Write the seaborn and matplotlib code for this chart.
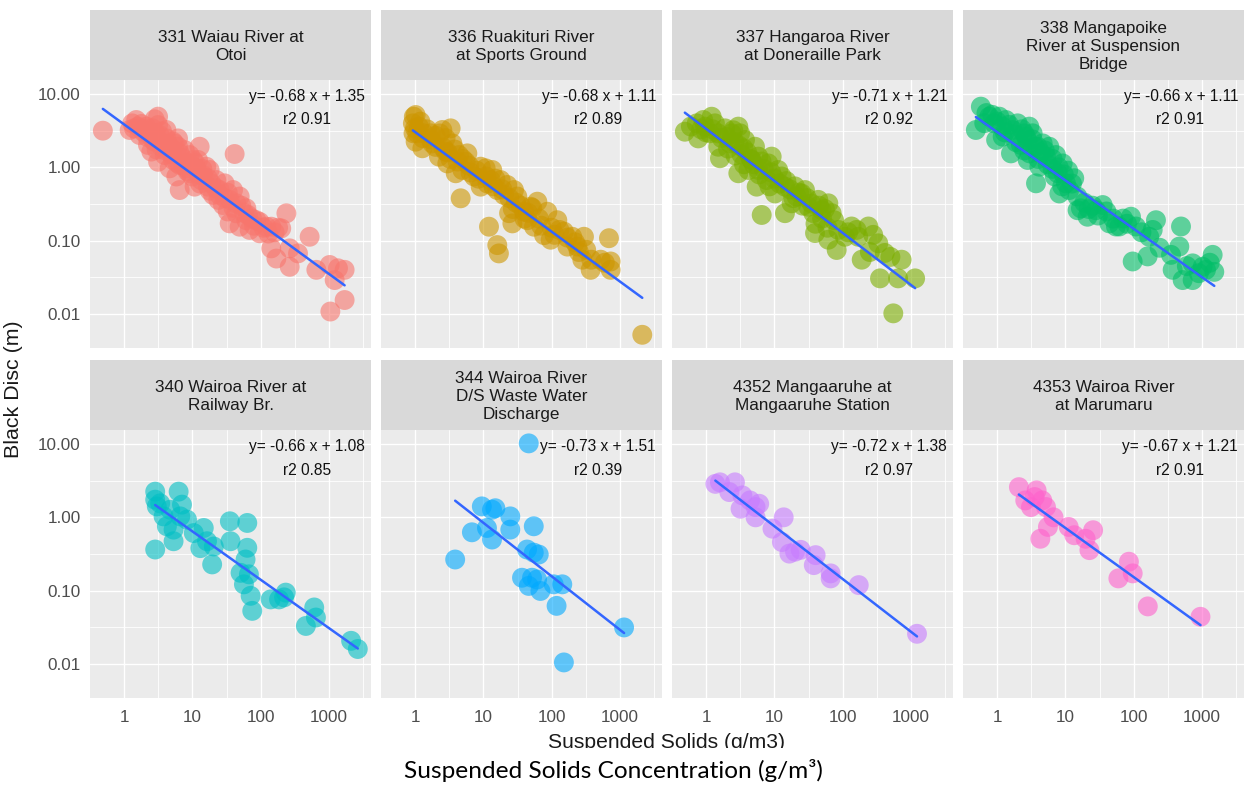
import numpy as np
import pandas as pd
import matplotlib
matplotlib.use("Agg")
import matplotlib.pyplot as plt
from matplotlib.patches import Rectangle
from matplotlib.ticker import FixedLocator, NullFormatter
import seaborn as sns

# ---------------- data ----------------
sites = [
    "331 Waiau River at\nOtoi",
    "336 Ruakituri River\nat Sports Ground",
    "337 Hangaroa River\nat Doneraille Park",
    "338 Mangapoike\nRiver at Suspension\nBridge",
    "340 Wairoa River at\nRailway Br.",
    "344 Wairoa River\nD/S Waste Water\nDischarge",
    "4352 Mangaaruhe at\nMangaaruhe Station",
    "4353 Wairoa River\nat Marumaru",
]
colors = ["#F8766D", "#CD9600", "#7CAE00", "#00BE67",
          "#00BFC4", "#00A9FF", "#C77CFF", "#FF61CC"]
slopes = [-0.68, -0.68, -0.71, -0.66, -0.66, -0.73, -0.72, -0.67]
intercepts = [1.35, 1.11, 1.21, 1.11, 1.08, 1.51, 1.38, 1.21]
r2 = [0.91, 0.89, 0.92, 0.91, 0.85, 0.39, 0.97, 0.91]

# (suspended solids g/m3, black disc m)
pts_331 = [(0.49, 3.16), (1.32, 3.98), (1.60, 3.59), (2.81, 4.52), (3.15, 3.77), (1.90, 3.06),
           (2.37, 2.76), (3.32, 2.76), (4.17, 2.48), (6.17, 2.48), (2.81, 2.24), (2.24, 2.02),
           (3.52, 1.91), (4.93, 1.82), (6.17, 1.91), (2.51, 1.64), (3.94, 1.47), (12.8, 1.91),
           (12.1, 1.26), (9.14, 1.47), (5.21, 1.26), (6.53, 1.08), (3.15, 1.19), (4.66, 0.97),
           (8.17, 0.97), (11.4, 0.97), (5.83, 0.75), (9.14, 0.83), (16.0, 1.02), (13.5, 0.67),
           (6.53, 0.49), (10.8, 0.545), (16.9, 0.545), (29.7, 0.605), (25.1, 0.49), (39.4, 0.49),
           (20.1, 0.42), (35.2, 0.36), (49.3, 0.40), (61.7, 0.276), (28.1, 0.306), (44.0, 0.236),
           (65.3, 0.224), (35.2, 0.172), (49.3, 0.155), (69.0, 0.14), (96.7, 0.18), (143, 0.155),
           (200, 0.147), (41.6, 1.52), (238, 0.236), (143, 0.0785), (170, 0.057), (266, 0.0785),
           (352, 0.067), (266, 0.044), (521, 0.113), (653, 0.040), (1023, 0.0466), (1355, 0.042),
           (1694, 0.040), (1211, 0.029), (1694, 0.0155), (1047, 0.0108), (96.7, 0.126), (61.7, 0.19),
           (17.9, 0.92), (4.17, 3.23), (1.69, 2.76), (1.21, 3.23), (3.15, 4.91), (6.53, 1.55),
           (8.17, 1.13), (1.51, 4.42), (2.12, 3.59), (5.21, 2.24), (7.73, 1.72), (10.2, 1.26),
           (22.4, 0.67), (44.0, 0.323), (86.4, 0.19), (121, 0.155), (14.3, 0.785),
           (1.4, 3.4), (1.8, 3.9), (2.0, 3.3), (2.6, 3.4), (2.9, 2.9), (3.6, 3.1), (2.2, 2.6),
           (2.7, 2.3), (3.4, 2.2), (4.5, 2.0), (5.5, 2.1), (3.0, 1.75), (4.0, 1.7), (5.0, 1.5),
           (7.0, 1.35), (6.0, 1.15), (7.5, 1.05), (9.5, 1.1), (11.0, 1.15), (8.5, 0.88), (10.0, 0.75),
           (12.5, 0.8), (14.0, 0.95), (13.0, 0.6), (17.0, 0.7), (19.0, 0.6), (22.0, 0.52), (18.0, 0.48),
           (25.0, 0.42), (30.0, 0.38), (33.0, 0.45), (24.0, 0.36), (40.0, 0.28), (52.0, 0.3),
           (57.0, 0.24), (33.0, 0.25), (75.0, 0.2), (80.0, 0.16), (110, 0.15), (130, 0.125),
           (160, 0.13), (180, 0.15)]
pts_336 = [(1.02, 5.17), (0.93, 3.98), (0.95, 2.91), (1.14, 3.59), (1.35, 2.91), (1.02, 2.24),
           (1.28, 1.82), (1.79, 2.12), (2.51, 3.23), (3.32, 3.40), (2.24, 1.40), (3.52, 2.12),
           (4.4, 1.47), (2.97, 1.13), (4.93, 0.92), (5.51, 1.19), (4.66, 0.378), (7.3, 0.75),
           (9.14, 0.545), (10.8, 0.97), (13.5, 0.92), (16.0, 0.49), (12.8, 0.67), (22.4, 0.574),
           (28.1, 0.49), (31.4, 0.40), (12.1, 0.155), (16.0, 0.087), (16.9, 0.067), (23.8, 0.237),
           (26.6, 0.172), (39.4, 0.248), (44.0, 0.19), (61.7, 0.34), (86.4, 0.248), (55.1, 0.155),
           (77.3, 0.119), (96.7, 0.103), (121, 0.19), (151, 0.133), (200, 0.113), (238, 0.083),
           (297, 0.113), (281, 0.055), (372, 0.040), (690, 0.108), (730, 0.052), (730, 0.040),
           (521, 0.055), (2120, 0.0052), (1.69, 2.91), (5.83, 1.55), (9.14, 1.02), (17.9, 0.67),
           (49.3, 0.29), (170, 0.083), (1.08, 2.91), (0.96, 4.9), (2.81, 1.64), (3.94, 0.83),
           (1.0, 3.4), (1.2, 4.2), (1.5, 3.3), (1.3, 2.5), (1.7, 2.4), (2.0, 2.7), (2.3, 2.9),
           (2.8, 2.5), (2.0, 1.9), (2.6, 1.85), (3.0, 1.6), (3.8, 1.75), (3.3, 1.3), (4.2, 1.2),
           (5.0, 1.3), (6.2, 1.05), (6.5, 0.85), (8.0, 0.9), (8.5, 0.7), (11.0, 0.75), (11.5, 0.6),
           (14.0, 0.55), (15.0, 0.7), (19.0, 0.5), (20.0, 0.42), (24.0, 0.38), (30.0, 0.33),
           (35.0, 0.3), (27.0, 0.27), (45.0, 0.24), (52.0, 0.28), (40.0, 0.2), (65.0, 0.2),
           (70.0, 0.16), (100, 0.15), (130, 0.14), (110, 0.12), (170, 0.11), (220, 0.095),
           (250, 0.07), (320, 0.075), (380, 0.055), (600, 0.05)]
pts_337 = [(0.49, 3.06), (0.73, 3.98), (0.91, 4.42), (0.77, 2.48), (1.14, 2.91), (1.35, 3.98),
           (1.90, 3.40), (2.97, 3.59), (3.15, 2.91), (1.51, 1.91), (1.60, 1.33), (2.24, 2.12),
           (3.52, 1.82), (4.66, 1.26), (2.97, 0.83), (4.17, 0.92), (5.83, 1.40), (8.17, 1.13),
           (11.4, 0.92), (7.73, 0.67), (5.51, 0.545), (12.8, 0.75), (6.53, 0.224), (14.3, 0.237),
           (17.9, 0.323), (25.1, 0.44), (44.0, 0.36), (61.7, 0.323), (69.0, 0.237), (37.2, 0.237),
           (39.4, 0.127), (61.7, 0.103), (81.7, 0.0746), (135, 0.156), (238, 0.156), (169, 0.113),
           (332, 0.092), (190, 0.055), (414, 0.068), (730, 0.055), (352, 0.0306), (648, 0.0306),
           (1150, 0.0306), (551, 0.0102), (86.4, 0.14), (108, 0.113), (0.97, 3.59), (2.37, 2.91),
           (3.72, 2.36), (5.21, 1.91), (9.14, 1.40), (14.3, 0.545), (28.1, 0.49), (49.3, 0.26),
           (10.2, 0.44), (21.1, 0.40), (1.21, 4.9), (5.83, 0.92), (31.4, 0.29),
           (0.6, 3.6), (0.85, 3.3), (1.0, 3.0), (1.25, 3.3), (1.5, 2.9), (1.7, 2.5), (2.0, 2.6),
           (2.5, 3.2), (2.6, 2.2), (2.1, 1.8), (3.0, 2.0), (3.3, 1.5), (2.7, 1.45), (4.0, 1.6),
           (4.5, 1.3), (3.6, 1.1), (5.0, 1.1), (6.5, 1.2), (7.0, 0.95), (6.0, 0.8), (9.0, 0.85),
           (10.0, 0.7), (8.5, 0.55), (12.0, 0.6), (15.0, 0.65), (17.0, 0.5), (20.0, 0.55),
           (23.0, 0.45), (19.0, 0.38), (30.0, 0.38), (35.0, 0.32), (26.0, 0.3), (45.0, 0.3),
           (55.0, 0.27), (50.0, 0.2), (40.0, 0.17), (75.0, 0.19), (60.0, 0.15), (120, 0.13),
           (160, 0.14), (280, 0.12), (250, 0.07), (500, 0.06)]
pts_338 = [(0.58, 6.72), (0.49, 3.23), (0.77, 4.91), (0.91, 3.98), (1.08, 4.91), (1.35, 4.42),
           (0.97, 2.36), (1.21, 2.62), (1.69, 3.23), (2.0, 3.98), (2.97, 3.59), (3.32, 2.91),
           (1.60, 1.55), (2.24, 2.02), (2.81, 1.26), (3.94, 1.91), (5.83, 1.91), (7.3, 1.47),
           (3.72, 0.605), (4.17, 1.02), (7.73, 0.83), (8.17, 0.44), (10.2, 0.605), (13.5, 0.71),
           (11.4, 0.49), (16.9, 0.276), (21.1, 0.212), (35.2, 0.306), (44.0, 0.172), (61.7, 0.156),
           (91.4, 0.212), (108, 0.156), (96.7, 0.052), (160, 0.061), (169, 0.113), (212, 0.19),
           (190, 0.14), (493, 0.156), (466, 0.083), (352, 0.064), (372, 0.040), (521, 0.029),
           (730, 0.029), (730, 0.049), (1023, 0.044), (1433, 0.064), (1514, 0.0375), (1145, 0.040),
           (5.21, 1.40), (9.14, 1.13), (2.66, 2.62), (4.66, 2.12), (28.1, 0.26), (55.1, 0.156),
           (15.1, 0.26),
           (0.7, 5.5), (0.65, 4.0), (0.85, 5.2), (1.0, 4.2), (1.2, 3.6), (1.5, 3.8), (1.3, 3.0),
           (1.8, 2.8), (2.3, 3.3), (2.5, 2.9), (1.9, 2.2), (2.8, 2.3), (3.3, 2.4), (3.6, 1.9),
           (2.5, 1.7), (3.0, 1.55), (4.3, 1.6), (5.0, 1.7), (4.0, 1.3), (6.5, 1.3), (5.5, 1.1),
           (6.5, 0.95), (8.0, 1.0), (7.0, 0.75), (9.5, 0.8), (11.0, 0.9), (12.5, 0.6), (9.0, 0.55),
           (15.0, 0.4), (19.0, 0.33), (22.0, 0.27), (25.0, 0.3), (30.0, 0.22), (40.0, 0.25),
           (50.0, 0.2), (70.0, 0.2), (80.0, 0.17), (130, 0.13), (240, 0.08), (600, 0.045),
           (900, 0.036), (1300, 0.05)]
pts_340 = [(2.86, 2.24), (2.86, 1.74), (3.02, 1.41), (6.3, 2.24), (7.05, 1.49), (4.75, 1.27),
           (3.79, 1.03), (5.31, 0.68), (6.66, 1.03), (2.86, 0.364), (5.31, 0.472), (10.5, 0.61),
           (14.7, 0.716), (16.4, 0.472), (20.6, 0.40), (19.5, 0.228), (13.1, 0.38), (36.2, 0.472),
           (35.4, 0.883), (63.7, 0.838), (63.7, 0.384), (60.1, 0.266), (50.8, 0.175), (67.3, 0.167),
           (56.9, 0.122), (71.3, 0.085), (75.3, 0.053), (140, 0.076), (186, 0.076), (233, 0.094),
           (220, 0.081), (459, 0.033), (608, 0.059), (644, 0.043), (2108, 0.0207), (2640, 0.016),
           (8.35, 0.93), (4.24, 0.755), (3.38, 1.55)]
pts_344 = [(46.2, 10.2), (9.5, 1.41), (13.4, 1.27), (15.0, 1.33), (24.8, 1.03), (24.8, 0.68),
           (11.3, 0.716), (6.8, 0.625), (13.4, 0.498), (54.7, 0.755), (3.87, 0.266), (43.6, 0.364),
           (64.7, 0.311), (54.7, 0.33), (36.8, 0.15), (51.6, 0.15), (61.2, 0.142), (46.2, 0.116),
           (68.5, 0.099), (107, 0.122), (143, 0.122), (118, 0.062), (151, 0.0105), (1148, 0.0315)]
pts_4352 = [(1.37, 2.86), (1.6, 3.0), (2.65, 3.0), (2.19, 2.21), (3.41, 1.99), (4.4, 1.70),
            (5.31, 1.38), (3.2, 1.31), (5.31, 1.0), (13.7, 1.0), (9.39, 0.70), (12.9, 0.46),
            (20.1, 0.34), (24.3, 0.36), (40.2, 0.305), (37.8, 0.223), (66.7, 0.172), (66.7, 0.147),
            (172, 0.119), (1225, 0.0258), (6.0, 1.53), (16.6, 0.32)]
pts_4353 = [(2.09, 2.58), (3.8, 2.33), (2.59, 1.70), (3.14, 1.38), (4.59, 1.70), (5.21, 1.38),
            (6.72, 1.0), (5.56, 0.74), (4.31, 0.51), (11.2, 0.74), (13.5, 0.57), (19.8, 0.51),
            (25.5, 0.667), (22.5, 0.357), (85.2, 0.248), (96.8, 0.172), (59.7, 0.147),
            (161, 0.061), (951, 0.044), (3.56, 1.89)]
site_points = [pts_331, pts_336, pts_337, pts_338, pts_340, pts_344, pts_4352, pts_4353]

x_ticks = [1, 10, 100, 1000]
x_tick_labels = ["1", "10", "100", "1000"]
y_ticks = [0.01, 0.1, 1, 10]
y_tick_labels = ["0.01", "0.10", "1.00", "10.00"]

# ---------------- style ----------------
sns.set_theme(style="white")
plt.rcParams["font.family"] = ["Liberation Sans", "DejaVu Sans"]

W, H = 1248, 791
fig = plt.figure(figsize=(W / 100, H / 100), dpi=100)
fig.patch.set_facecolor("white")


def rect(left, top, right, bottom):
    return [left / W, 1 - bottom / H, (right - left) / W, (bottom - top) / H]


col_left = [90, 381, 672, 963]
pw = 281
panel_top = [80, 430]
ph = 268
strip_h = 70

frames = []
for i, pts in enumerate(site_points):
    arr = np.array(pts, dtype=float)
    frames.append(pd.DataFrame({"site": sites[i], "ss": arr[:, 0], "bd": arr[:, 1]}))
data = pd.concat(frames, ignore_index=True)

xlim = (10 ** -0.498, 10 ** 3.615)
ylim = (10 ** -2.464, 10 ** 1.191)
x_minor = [10 ** (k + 0.5) for k in range(-1, 4)]
y_minor = [10 ** (k + 0.5) for k in range(-3, 2)]

for i, site in enumerate(sites):
    r, c = divmod(i, 4)
    L = col_left[c]
    T = panel_top[r]
    ax = fig.add_axes(rect(L, T, L + pw, T + ph))
    sax = fig.add_axes(rect(L, T - strip_h, L + pw, T))

    # strip
    sax.set_facecolor("#D9D9D9")
    sax.set_xticks([]); sax.set_yticks([])
    for s in sax.spines.values():
        s.set_visible(False)
    sax.text(0.5, 0.48, site, ha="center", va="center", fontsize=12.3,
             color="#1A1A1A", linespacing=1.22, transform=sax.transAxes)

    # panel
    ax.set_facecolor("#EBEBEB")
    ax.set_xscale("log"); ax.set_yscale("log")
    sub = data[data["site"] == site]
    sns.scatterplot(data=sub, x="ss", y="bd", ax=ax, color=colors[i], alpha=0.6,
                    s=205, linewidth=0, edgecolor="none", zorder=3, legend=False)
    xs = np.geomspace(sub["ss"].min(), sub["ss"].max(), 60)
    fit = pd.DataFrame({"ss": xs, "bd": np.exp(intercepts[i] + slopes[i] * np.log(xs))})
    sns.lineplot(data=fit, x="ss", y="bd", ax=ax, color="#3366FF", linewidth=1.8,
                 zorder=4, estimator=None, sort=False)
    ax.set_xlim(*xlim); ax.set_ylim(*ylim)
    ax.xaxis.set_major_locator(FixedLocator(x_ticks))
    ax.yaxis.set_major_locator(FixedLocator(y_ticks))
    ax.xaxis.set_minor_locator(FixedLocator(x_minor))
    ax.yaxis.set_minor_locator(FixedLocator(y_minor))
    ax.xaxis.set_minor_formatter(NullFormatter())
    ax.yaxis.set_minor_formatter(NullFormatter())
    ax.grid(True, which="major", color="white", linewidth=1.0, zorder=0)
    ax.grid(True, which="minor", color="white", linewidth=0.6, zorder=0)
    ax.set_axisbelow(True)
    for s in ax.spines.values():
        s.set_visible(False)
    ax.set_xlabel(""); ax.set_ylabel("")
    ax.tick_params(which="minor", length=0)
    ax.tick_params(which="major", length=3.6, width=0.8, color="#333333",
                   labelcolor="#4D4D4D", labelsize=12.3)
    ax.tick_params(axis="y", pad=3.2)
    ax.tick_params(axis="x", pad=5.0)
    if r == 1:
        ax.set_xticklabels(x_tick_labels)
    else:
        ax.tick_params(axis="x", which="both", bottom=False, labelbottom=False)
    if c == 0:
        ax.set_yticklabels(y_tick_labels)
    else:
        ax.tick_params(axis="y", which="both", left=False, labelleft=False)

    ax.text(0.979, 1 - 16 / ph, f"y= {slopes[i]:.2f} x + {intercepts[i]:.2f}",
            transform=ax.transAxes, ha="right", va="center", fontsize=11.2,
            color="#111111", zorder=6)
    ax.text(0.774, 1 - 40 / ph, f"r2 {r2[i]:.2f}", transform=ax.transAxes,
            ha="center", va="center", fontsize=11.2, color="#111111", zorder=6)

# axis titles
fig.text(14 / W, 1 - 389 / H, "Black Disc (m)", rotation=90, ha="center", va="center",
         fontsize=15.4, color="#1A1A1A")
fig.text(667 / W, 1 - 748 / H, "Suspended Solids (g/m3)", ha="center", va="baseline",
         fontsize=15.2, color="#1A1A1A", zorder=3)
# the lower part of the ggplot x title is cropped in the source
fig.patches.append(Rectangle((0, 0), 1, 1 - 748 / H, transform=fig.transFigure,
                             facecolor="white", edgecolor="none", zorder=5))
fig.text(613 / W, 1 - 778 / H, "Suspended Solids Concentration (g/m³)", ha="center",
         va="baseline", fontsize=17.6, color="black", family=["Lato", "DejaVu Sans"], zorder=6)

fig.savefig("out.png", dpi=100, facecolor="white")
